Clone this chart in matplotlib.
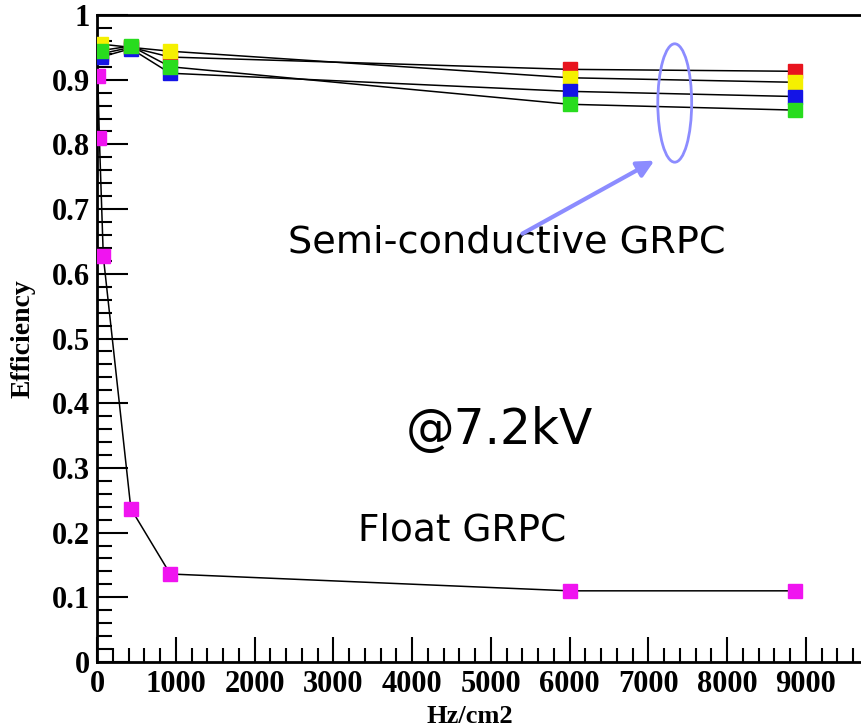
import matplotlib.pyplot as plt
import numpy as np
from matplotlib.patches import Ellipse
from matplotlib.ticker import MultipleLocator

# rate (Hz/cm2) for the semi-conductive chambers
x_semi = [50, 430, 930, 6000, 8860]
eff_red = [0.940, 0.950, 0.935, 0.916, 0.913]
eff_yellow = [0.955, 0.950, 0.944, 0.903, 0.896]
eff_blue = [0.935, 0.948, 0.910, 0.882, 0.874]
eff_green = [0.945, 0.952, 0.920, 0.862, 0.853]

# float GRPC
x_float = [10, 30, 80, 430, 930, 6000, 8860]
eff_float = [0.905, 0.810, 0.627, 0.237, 0.136, 0.110, 0.110]

W, H = 861, 727
fig = plt.figure(figsize=(W / 100, H / 100), dpi=100)
ax = fig.add_axes([97 / W, 1 - 662 / H, 1 - 97 / W, (662 - 15) / H])

series = [(x_semi, eff_red, '#e8141e'),
          (x_semi, eff_yellow, '#f5f000'),
          (x_semi, eff_blue, '#1414e6'),
          (x_semi, eff_green, '#28dc1e'),
          (x_float, eff_float, '#f014f0')]

for xs, ys, col in series:
    ax.errorbar(xs, ys, yerr=0.006, color='black', lw=1.1, elinewidth=1.1,
                capsize=0, zorder=2)
    ax.plot(xs, ys, 's', ms=10.5, color=col, mec=col, zorder=3)

ax.set_xlim(0, 9700)
ax.set_ylim(0, 1)
ax.xaxis.set_minor_locator(MultipleLocator(200))
ax.yaxis.set_minor_locator(MultipleLocator(0.02))
ax.set_yticks(np.arange(0, 1.01, 0.1))
ax.set_yticklabels(['0'] + ['%.1f' % v for v in np.arange(0.1, 0.95, 0.1)] + ['1'])
ax.set_xticks(np.arange(0, 9001, 1000))

ax.tick_params(axis='both', which='both', direction='in', width=1.5,
               labelsize=22)
ax.tick_params(axis='y', which='major', length=22, pad=5)
ax.tick_params(axis='y', which='minor', length=11)
ax.tick_params(axis='x', which='major', length=18, pad=6)
ax.tick_params(axis='x', which='minor', length=10)
for lab in ax.get_xticklabels() + ax.get_yticklabels():
    lab.set_family('Liberation Serif')
    lab.set_fontweight('bold')

ax.spines['right'].set_visible(False)
for s in ['left', 'bottom', 'top']:
    ax.spines[s].set_linewidth(2)

ax.set_xlabel('Hz/cm2', family='Liberation Serif', fontweight='bold',
              fontsize=19)
ax.set_ylabel('Efficiency', family='Liberation Serif', fontweight='bold',
              fontsize=20)
ax.yaxis.set_label_coords(-(97 - 36) / 764, 0.5)
ax.xaxis.set_label_coords(373 / 764, -(705 - 662) / 647)

lc = '#8c8cff'
ax.add_patch(Ellipse((7335, 0.864), 430, 0.183, fill=False, ec=lc, lw=2,
                     zorder=4))
ax.annotate('', xy=(7107, 0.777), xytext=(5370, 0.66),
            arrowprops=dict(arrowstyle='-|>', color=lc, lw=3,
                            mutation_scale=25), zorder=4)

ax.text(5200, 0.648, 'Semi-conductive GRPC', fontsize=27.5, ha='center',
        va='center', family='DejaVu Sans')
ax.text(5110, 0.358, '@7.2kV', fontsize=35, ha='center', va='center',
        family='DejaVu Sans')
ax.text(4630, 0.203, 'Float GRPC', fontsize=27, ha='center', va='center',
        family='DejaVu Sans')

fig.savefig('out.png', dpi=100)
